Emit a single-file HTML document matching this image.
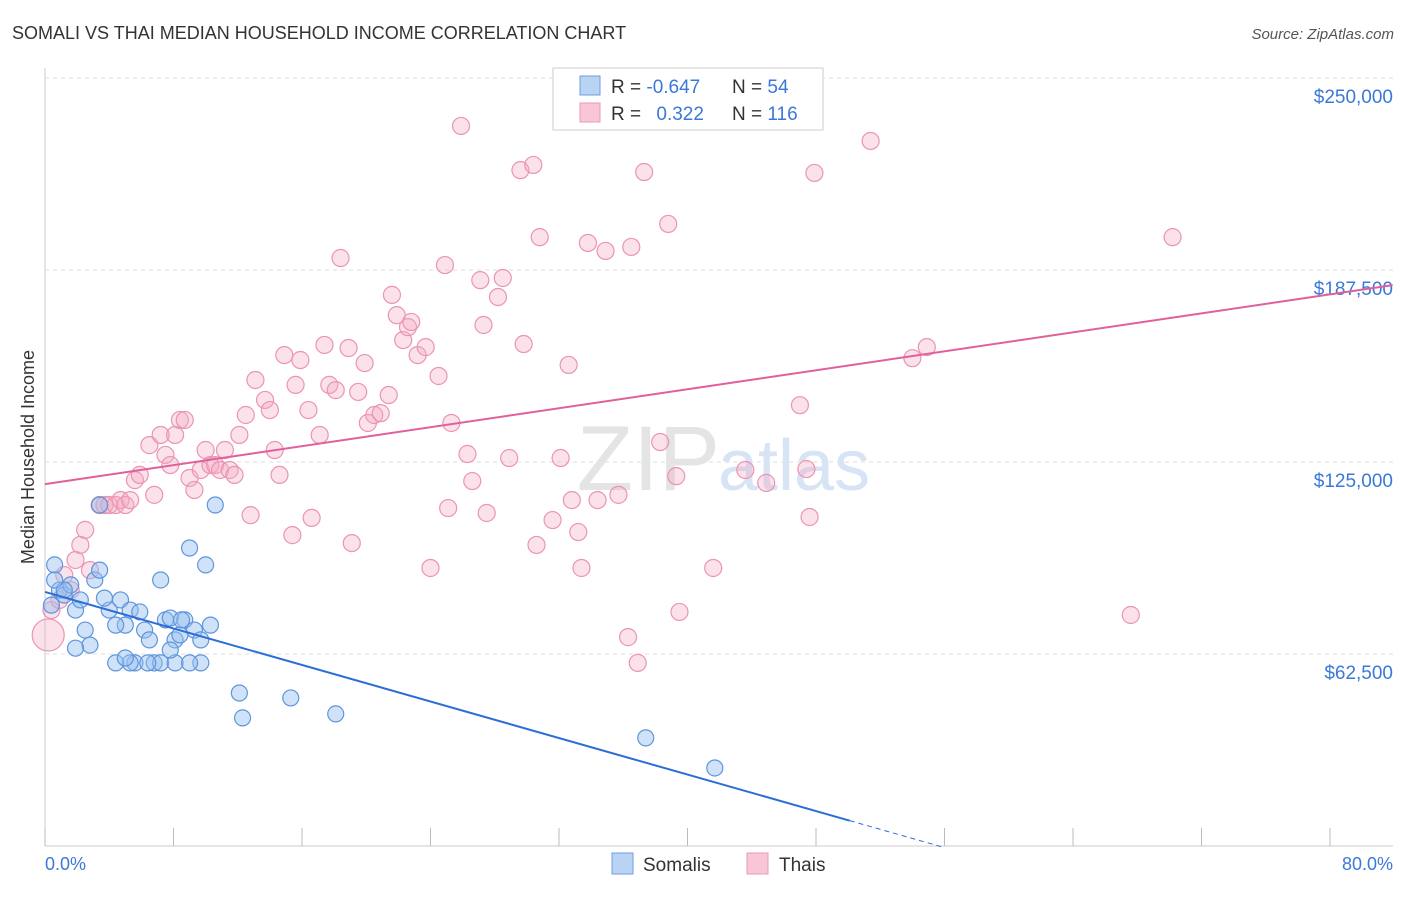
<!DOCTYPE html>
<html><head><meta charset="utf-8"><style>
body{margin:0;background:#fff;font-family:"Liberation Sans",sans-serif;}
svg text{font-family:"Liberation Sans",sans-serif;}
</style></head><body>
<svg id="chart" width="1406" height="892" viewBox="0 0 1406 892" xmlns="http://www.w3.org/2000/svg">
<text x="12" y="39" font-size="18" fill="#333">SOMALI VS THAI MEDIAN HOUSEHOLD INCOME CORRELATION CHART</text>
<text x="1394" y="39" font-size="15" fill="#555" font-style="italic" text-anchor="end">Source: ZipAtlas.com</text>
<text transform="translate(34,457) rotate(-90)" font-size="18" fill="#333" text-anchor="middle">Median Household Income</text>
<g id="grid"></g>
<text x="720" y="490" font-size="92" fill="#e4e4e4" text-anchor="end" font-family="Liberation Serif">ZIP</text>
<text x="718" y="490" font-size="72" fill="#d6e4f5">atlas</text>
<g id="pts"></g>
<g id="lines"></g>
<g>
<rect x="553" y="68" width="270" height="62" fill="#fff" stroke="#ccc"/>
<rect x="580" y="76" width="20" height="19" fill="#b9d3f3" stroke="#6f9ee0"/>
<rect x="580" y="103" width="20" height="19" fill="#f9c6d6" stroke="#e89ab4"/>
<text x="611" y="93" font-size="19" fill="#333">R = <tspan fill="#3b78d8">-0.647</tspan></text>
<text x="732" y="93" font-size="19" fill="#333">N = <tspan fill="#3b78d8">54</tspan></text>
<text x="611" y="120" font-size="19" fill="#333">R = <tspan fill="#3b78d8" dx="10">0.322</tspan></text>
<text x="732" y="120" font-size="19" fill="#333">N = <tspan fill="#3b78d8">116</tspan></text>
</g>
<g>
<rect x="612" y="853" width="21" height="21" fill="#b9d3f3" stroke="#6f9ee0"/>
<text x="643" y="871" font-size="19" fill="#333">Somalis</text>
<rect x="747" y="853" width="21" height="21" fill="#f9c6d6" stroke="#e89ab4"/>
<text x="779" y="871" font-size="19" fill="#333">Thais</text>
</g>
<text x="45" y="870" font-size="18" fill="#3b78d8">0.0%</text>
<text x="1393" y="870" font-size="18" fill="#3b78d8" text-anchor="end">80.0%</text>
</svg>
<script>
const yTicks=[62500,125000,187500,250000];
const yTickLabels=["$62,500","$125,000","$187,500","$250,000"];
const xTicks=[0,8,16,24,32,40,48,56,64,72,80];
const somaliX=[0.6,0.9,0.4,1.2,1.6,1.9,2.2,2.5,2.8,1.9,3.1,3.4,4.0,3.7,4.7,5.0,4.4,5.3,5.6,5.9,6.2,6.5,6.8,7.2,7.5,7.2,7.8,8.1,8.7,9.0,9.3,9.7,10.0,10.3,10.6,9.7,8.1,8.4,12.1,12.3,15.3,18.1,37.4,41.7,3.4,1.2,0.6,5.3,4.4,5.0,6.4,8.5,9.0,7.8];
const somaliY=[91.5,83.3,78.4,81.7,85,76.8,80.1,70.3,65.4,64.4,86.6,89.8,76.8,80.7,80.1,71.9,71.9,76.8,59.6,76.2,70.3,67.1,59.6,86.6,73.6,59.6,74.2,59.6,73.6,97,70.3,67.1,91.5,71.9,111,59.6,67.1,68.7,49.8,41.7,48.2,43,35.2,25.4,111,83.3,86.6,59.6,59.6,61.2,59.6,73.6,59.6,63.8];
const thaiX=[0.2,0.4,0.9,1.2,1.6,1.9,2.2,2.5,2.8,3.4,3.7,4.0,4.4,4.7,5.0,5.3,5.6,5.9,6.5,6.8,7.2,7.5,7.8,8.1,8.4,8.7,9.0,9.3,9.7,10.0,10.3,10.6,10.9,11.2,11.5,11.8,12.1,12.5,12.8,13.1,13.7,14.0,14.3,14.6,14.9,15.4,15.6,15.9,16.4,16.6,17.1,17.4,17.7,18.1,18.4,18.9,19.1,19.5,19.9,20.1,20.5,20.9,21.4,21.6,21.9,22.3,22.6,22.8,23.2,23.7,24.0,24.5,24.9,25.1,25.3,25.9,26.3,26.6,27.1,27.3,27.5,28.2,28.5,28.9,29.6,29.8,30.4,30.6,30.8,31.6,32.1,32.6,32.8,33.2,33.4,33.8,34.4,34.9,35.7,36.3,36.5,36.9,37.3,38.3,38.8,39.3,39.5,41.6,43.6,44.9,47.0,47.4,47.6,47.9,51.4,54.0,54.9,67.6,70.2];
const thaiY=[68.7,76.8,80.1,88.2,83.3,93.1,98,102.9,89.8,111,111,111,111,112.6,111,112.6,119.1,120.8,130.5,114.3,133.8,127.3,124,133.8,138.7,138.7,119.8,115.9,122.4,128.9,124,124,122.4,128.9,122.4,120.8,133.8,140.3,107.7,151.7,145.2,141.9,128.9,120.8,159.8,101.2,150.1,158.2,141.9,106.8,133.8,163.1,150.1,148.4,191.4,162.1,98.6,147.8,157.2,137.7,140.3,140.9,146.8,179.4,172.8,164.7,168.9,170.6,159.8,162.4,90.5,153,189.1,110,137.7,234.4,127.6,118.8,184.2,169.6,108.4,178.7,184.9,126.3,220,163.4,221.7,98,198.2,106.1,126.3,156.6,112.6,102.2,90.5,196.3,112.6,193.7,114.3,68,195,59.6,219.4,131.5,202.5,120.4,76.2,90.5,122.4,118.2,143.5,122.7,107.1,219.1,229.5,158.8,162.4,75.2,198.2];
const trendIntercept=[82.7,117.8];
const trendSlope=[-1.486,0.772];
const trendEnd=[50.1,83.9];

const NS="http://www.w3.org/2000/svg";
const X0=45,X1=1330,Y0=846,PXK=192/62.5;
function sx(p){return X0+p/80*(X1-X0);}
function sy(k){return Y0-k*PXK;}
function mk(t,a,parent){const e=document.createElementNS(NS,t);for(const k in a)e.setAttribute(k,a[k]);parent.appendChild(e);return e;}
const grid=document.getElementById('grid');
mk('line',{x1:45,y1:68,x2:45,y2:846,stroke:'#ccc'},grid);
mk('line',{x1:45,y1:846,x2:1393,y2:846,stroke:'#ccc'},grid);
yTicks.forEach((v,i)=>{
  const y=sy(v/1000);
  const l=mk('line',{x1:45,y1:y,x2:1393,y2:y,stroke:'#ddd','stroke-dasharray':'4,4'},grid);
  
  
  const t=mk('text',{x:1393,y:y+25,'font-size':19,fill:'#3b78d8','text-anchor':'end'},grid);
  t.textContent=yTickLabels[i];
  
  
});
xTicks.forEach(v=>{
  const l=mk('line',{x1:sx(v),y1:828,x2:sx(v),y2:846,stroke:'#bbb'},grid);
  
  
});
const pts=document.getElementById('pts');
thaiX.forEach((x,i)=>{
  const c=mk('circle',{cx:sx(x),cy:sy(thaiY[i]),r:i==0?16:8.5,fill:'rgba(244,168,196,0.35)',stroke:'#eb94b4','stroke-width':1.2},pts);
  
  
});
somaliX.forEach((x,i)=>{
  const c=mk('circle',{cx:sx(x),cy:sy(somaliY[i]),r:8,fill:'rgba(150,190,240,0.45)',stroke:'#5e95dc','stroke-width':1.2},pts);
  
  
});
const lines=document.getElementById('lines');
const bl=mk('line',{x1:sx(0),y1:sy(trendIntercept[0]),x2:sx(trendEnd[0]),y2:sy(trendIntercept[0]+trendSlope[0]*trendEnd[0]),stroke:'#2b6fd6','stroke-width':2},lines);


const bd=mk('line',{x1:sx(trendEnd[0]),y1:sy(trendIntercept[0]+trendSlope[0]*trendEnd[0]),x2:sx(55.8),y2:sy(trendIntercept[0]+trendSlope[0]*55.8),stroke:'#2b6fd6','stroke-width':1,'stroke-dasharray':'5,4'},lines);


const pl=mk('line',{x1:sx(0),y1:sy(trendIntercept[1]),x2:sx(trendEnd[1]),y2:sy(trendIntercept[1]+trendSlope[1]*trendEnd[1]),stroke:'#e0609a','stroke-width':2},lines);


</script>
</body></html>
